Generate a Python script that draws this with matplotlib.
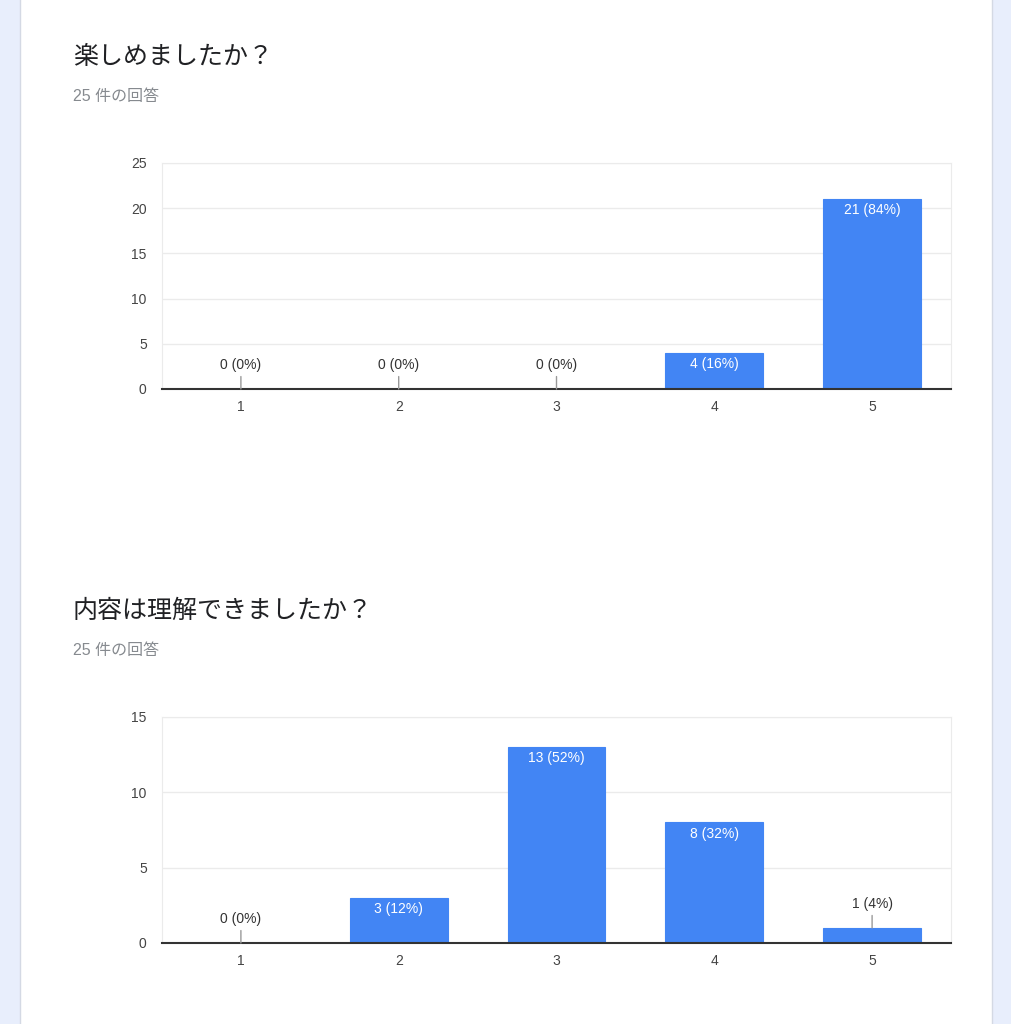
import numpy as np
import matplotlib
matplotlib.use('Agg')
import matplotlib.pyplot as plt
from matplotlib.patches import Rectangle

plt.rcParams['font.family'] = ['Liberation Sans', 'Noto Sans CJK JP', 'DejaVu Sans']

# data
categories = ['1', '2', '3', '4', '5']
titles = ['楽しめましたか？', '内容は理解できましたか？']
subtitle = '25 件の回答'
counts_fun = [0, 0, 0, 4, 21]
counts_understood = [0, 3, 13, 8, 1]
total = 25
ymax = [25, 15]

blue = '#4285f4'

fig = plt.figure(figsize=(10.12, 10.24), dpi=100)
fig.patch.set_facecolor('#e8eefc')
# white card behind everything
fig.patches.append(Rectangle((20/1012, -0.01), 972/1012, 1.02, transform=fig.transFigure,
                             facecolor='white', edgecolor='#d4d9e4', lw=1, zorder=-5))

def draw_chart(bottom, counts, top, title, title_y, sub_y):
    fig.text(73/1012, title_y, title, fontsize=18, color='#202124', va='center',
             family=['Noto Sans CJK JP', 'DejaVu Sans'])
    fig.text(73/1012, sub_y, subtitle, fontsize=11.5, color='#868a8f', va='center',
             family=['Liberation Sans', 'Noto Sans CJK JP'])
    ax = fig.add_axes([162/1012, bottom, 789/1012, 226/1024])
    ax.set_zorder(2)
    x = np.arange(1, len(categories) + 1)
    ax.bar(x, counts, width=0.62, color=blue, edgecolor=blue, lw=0.8, zorder=3)
    ax.set_xlim(0.5, len(categories) + 0.5)
    ax.set_ylim(0, top)
    ax.set_yticks(np.arange(0, top + 1, 5))
    ax.set_xticks(x)
    ax.set_xticklabels(categories)
    ax.tick_params(length=0, labelsize=10, labelcolor='#444444')
    ax.tick_params(axis='y', pad=11)
    ax.tick_params(axis='x', pad=8)
    ax.grid(axis='y', color='#ebebeb', lw=1, zorder=0)
    for s in ['left', 'right', 'top']:
        ax.spines[s].set_color('#ebebeb')
    ax.spines['bottom'].set_color('#333333')
    ax.spines['bottom'].set_linewidth(1.5)
    ax.spines['bottom'].set_zorder(4)
    px_per_unit = 226 / top
    for xi, v in zip(x, counts):
        label = f'{v} ({v / total * 100:.0f}%)'
        if v * px_per_unit > 25:
            ax.annotate(label, xy=(xi, v), xytext=(0, -8), textcoords='offset points',
                        ha='center', va='center', color='white', fontsize=10, zorder=5)
        else:
            ax.annotate(label, xy=(xi, v), xytext=(0, 17), textcoords='offset points',
                        ha='center', va='center', color='#333333', fontsize=10, zorder=5,
                        arrowprops=dict(arrowstyle='-', color='#999999', lw=1,
                                        shrinkA=1, shrinkB=0))
    return ax

draw_chart(1 - 389/1024, counts_fun, ymax[0], titles[0], 1 - 57/1024, 1 - 96/1024)
draw_chart(1 - 943/1024, counts_understood, ymax[1], titles[1], 1 - 611/1024, 1 - 650/1024)

fig.savefig('out.png', dpi=100, facecolor=fig.get_facecolor())
